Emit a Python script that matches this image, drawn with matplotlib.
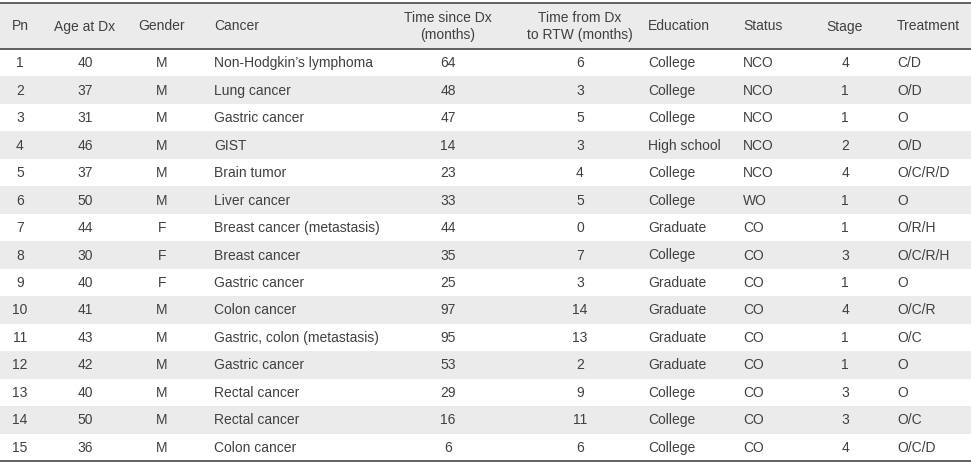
import matplotlib
matplotlib.use("Agg")
import matplotlib.pyplot as plt
from matplotlib.patches import Rectangle

pn = [str(i) for i in range(1, 16)]
age = [40, 37, 31, 46, 37, 50, 44, 30, 40, 41, 43, 42, 40, 50, 36]
gender = ["M", "M", "M", "M", "M", "M", "F", "F", "F", "M", "M", "M", "M", "M", "M"]
cancer = ["Non-Hodgkin\u2019s lymphoma", "Lung cancer", "Gastric cancer", "GIST",
          "Brain tumor", "Liver cancer", "Breast cancer (metastasis)", "Breast cancer",
          "Gastric cancer", "Colon cancer", "Gastric, colon (metastasis)",
          "Gastric cancer", "Rectal cancer", "Rectal cancer", "Colon cancer"]
time_since = [64, 48, 47, 14, 23, 33, 44, 35, 25, 97, 95, 53, 29, 16, 6]
time_rtw = [6, 3, 5, 3, 4, 5, 0, 7, 3, 14, 13, 2, 9, 11, 6]
education = ["College", "College", "College", "High school", "College", "College",
             "Graduate", "College", "Graduate", "Graduate", "Graduate", "Graduate",
             "College", "College", "College"]
status = ["NCO", "NCO", "NCO", "NCO", "NCO", "WO", "CO", "CO", "CO", "CO", "CO",
          "CO", "CO", "CO", "CO"]
stage = [4, 1, 1, 2, 4, 1, 1, 3, 1, 4, 1, 1, 3, 3, 4]
treatment = ["C/D", "O/D", "O", "O/D", "O/C/R/D", "O", "O/R/H", "O/C/R/H", "O",
             "O/C/R", "O/C", "O", "O", "O/C", "O/C/D"]
headers = ["Pn", "Age at Dx", "Gender", "Cancer", "Time since Dx\n(months)",
           "Time from Dx\nto RTW (months)", "Education", "Status", "Stage", "Treatment"]

columns = [pn, age, gender, cancer, time_since, time_rtw, education, status, stage, treatment]
col_x = [20, 85, 162, 214, 448, 580, 648, 743, 845, 897]
col_ha = ["center", "center", "center", "left", "center", "center", "left", "left", "center", "left"]

W, H = 971, 466
fig = plt.figure(figsize=(W / 100, H / 100), dpi=100)
ax = fig.add_axes([0, 0, 1, 1])
ax.set_xlim(0, W)
ax.set_ylim(H, 0)
ax.axis("off")

top, head_bot, bottom = 3, 49, 461
row_h = (bottom - head_bot) / len(pn)
stripe = "#ebebeb"
txt = "#404040"
line_c = "#555555"
fs = 10
font = "Liberation Sans"

ax.add_patch(Rectangle((0, top), W, head_bot - top, color=stripe, lw=0, zorder=0))
for i in range(len(pn)):
    y0 = head_bot + i * row_h
    if i % 2 == 1:
        ax.add_patch(Rectangle((0, y0), W, row_h, color=stripe, lw=0, zorder=0))
    for col, x, ha in zip(columns, col_x, col_ha):
        ax.text(x, y0 + row_h / 2 + 0.5, str(col[i]), ha=ha, va="center",
                fontsize=fs, color=txt, family=font)

for h, x, ha in zip(headers, col_x, col_ha):
    ax.text(x, (top + head_bot) / 2 + 0.5, h, ha=ha, va="center", fontsize=fs,
            color=txt, family=font, linespacing=1.3, multialignment="center")

for y, lw in [(top, 1.3), (head_bot, 1.3), (bottom, 1.3)]:
    ax.plot([0, W], [y, y], color=line_c, lw=lw, solid_capstyle="butt")

fig.savefig("out.png", dpi=100)
